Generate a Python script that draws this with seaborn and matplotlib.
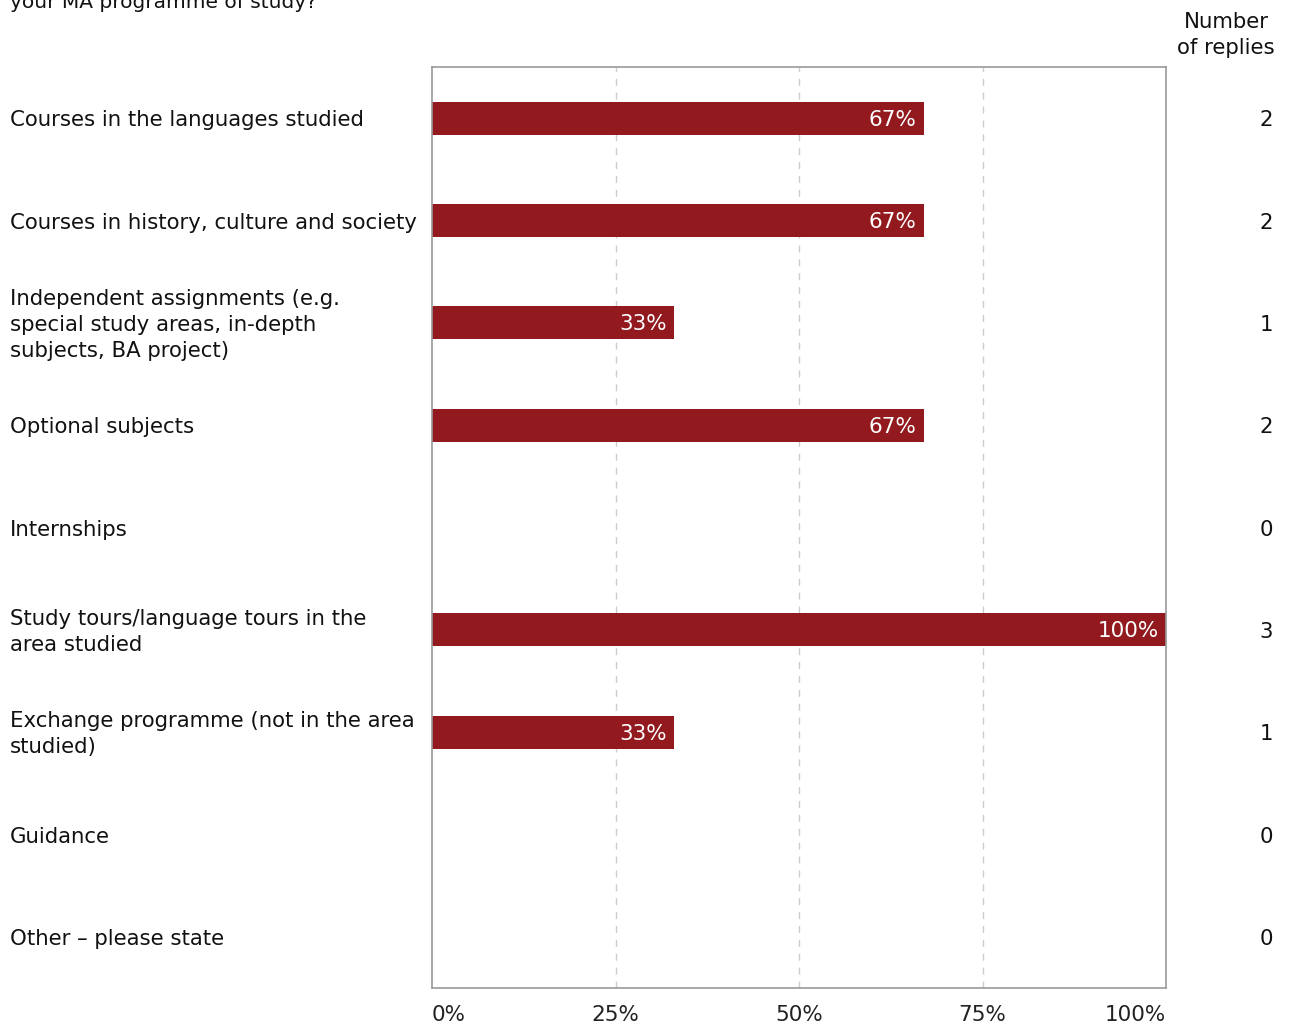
import matplotlib
matplotlib.use("Agg")
import matplotlib.pyplot as plt
import matplotlib.transforms as mtransforms
import seaborn as sns
import pandas as pd

categories = [
    "Courses in the languages studied",
    "Courses in history, culture and society",
    "Independent assignments (e.g.\nspecial study areas, in-depth\nsubjects, BA project)",
    "Optional subjects",
    "Internships",
    "Study tours/language tours in the\narea studied",
    "Exchange programme (not in the area\nstudied)",
    "Guidance",
    "Other \u2013 please state",
]
percentages = [67, 67, 33, 67, 0, 100, 33, 0, 0]
replies = [2, 2, 1, 2, 0, 3, 1, 0, 0]
tick_values = [0, 25, 50, 75, 100]
tick_labels = ["0%", "25%", "50%", "75%", "100%"]
title_text = "your MA programme of study?"
replies_header = "Number\nof replies"

sns.set_theme(style="white")
plt.rcParams["font.family"] = ["DejaVu Sans"]

W, H = 1289, 1028
fig = plt.figure(figsize=(W / 100, H / 100), dpi=100)
ax = fig.add_axes([432 / W, 1 - 988 / H, (1166 - 432) / W, (988 - 67) / H])

df = pd.DataFrame({"cat": categories, "pct": percentages})
bar_color = "#921A1F"
sns.barplot(data=df, x="pct", y="cat", orient="h", color=bar_color,
            width=0.32, saturation=1, ax=ax, edgecolor="none")

fs = 15.3
ls = 1.36
ax.set_xlim(0, 100)
ax.set_ylim(len(categories) - 0.5, -0.5)
ax.set_xlabel("")
ax.set_ylabel("")
ax.set_yticks([])
ax.set_xticks(tick_values)
ax.set_xticklabels(tick_labels, fontsize=15.5, color="#222222")
ax.tick_params(axis="x", length=0, pad=12)
xt = ax.get_xticklabels()
xt[0].set_ha("left")
xt[-1].set_ha("right")

for v in tick_values[1:-1]:
    ax.axvline(v, color="#cccccc", linestyle=(0, (5, 5)), linewidth=1, zorder=0)

for s in ax.spines.values():
    s.set_color("#999999")
    s.set_linewidth(1.2)

trans_left = mtransforms.blended_transform_factory(fig.transFigure, ax.transData)
for i, (cat, p, n) in enumerate(zip(categories, percentages, replies)):
    ax.annotate(cat, xy=(10 / W, i), xycoords=trans_left, xytext=(0, -1.5),
                textcoords="offset points", ha="left", va="center",
                fontsize=fs, color="#111111", linespacing=ls)
    ax.annotate(str(n), xy=(1273 / W, i), xycoords=trans_left, xytext=(0, -1.5),
                textcoords="offset points", ha="right", va="center",
                fontsize=fs, color="#111111")
    if p > 0:
        ax.annotate(f"{p}%", xy=(p, i), xytext=(-5, -1), textcoords="offset points",
                    ha="right", va="center", fontsize=15.5, color="white")

fig.text(1226 / W, 1 - 35 / H, replies_header, ha="center", va="center",
         fontsize=fs, color="#111111", linespacing=ls)
fig.text(10 / W, 1 - 8 / H, title_text, ha="left", va="baseline",
         fontsize=14.5, color="#111111")

fig.savefig("out.png", dpi=100, facecolor="white")
